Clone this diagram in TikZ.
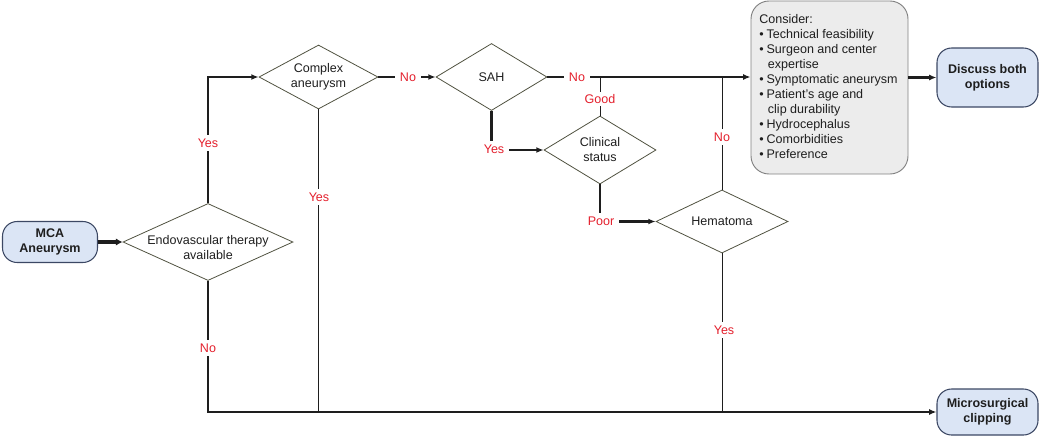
\documentclass[tikz,border=0pt]{standalone}
\usepackage{fontspec}
\setmainfont{Liberation Sans}
\usetikzlibrary{shapes.geometric,arrows.meta,calc}
\definecolor{lblred}{RGB}{228,32,45}
\definecolor{boxblue}{RGB}{219,229,245}
\definecolor{boxedge}{RGB}{60,72,100}
\definecolor{diaedge}{RGB}{80,82,64}
\definecolor{graybox}{RGB}{236,236,236}
\definecolor{grayedge}{RGB}{130,130,130}
\definecolor{txt}{RGB}{30,30,30}
\newcommand\bl{\makebox[5.5pt][l]{\textbullet}}
\newcommand\ind{\hspace*{6.5pt}}
\tikzset{
  every node/.style={font=\fontsize{9.4}{11.25}\selectfont, text=txt},
  term/.style={draw=boxedge, fill=boxblue, line width=0.8pt, rounded corners=11pt,
    inner sep=0pt, align=center, font=\fontsize{9.4}{11.25}\selectfont\bfseries},
  dia/.style={diamond, draw=diaedge, line width=0.6pt, inner sep=0pt},
  lab/.style={fill=white, text=lblred, inner xsep=3.5pt, inner ysep=3pt},
  thickln/.style={draw=txt, line width=1.7pt},
  thinln/.style={draw=txt, line width=0.7pt},
  arr/.style={-{Latex[length=5.5pt,width=4.5pt]}},
}
\begin{document}
\begin{tikzpicture}[x=0.75pt,y=-0.75pt]
\useasboundingbox (0,0) rectangle (1039,436);
% nodes
\node[term, minimum width=71.25pt, minimum height=30.75pt] (mca) at (50,242) {MCA\\Aneurysm};
\node[dia, minimum width=127.5pt, minimum height=57.75pt,
  label={[align=center, yshift=-4.5pt]center:Endovascular therapy\\available}] (endo) at (208,242) {};
\node[dia, minimum width=89.25pt, minimum height=48pt,
  label={[align=center]center:Complex\\aneurysm}] (complex) at (318.5,77) {};
\node[dia, minimum width=83.25pt, minimum height=50.25pt,
  label={center:SAH}] (sah) at (491.5,77) {};
\node[dia, minimum width=84pt, minimum height=51pt,
  label={[align=center]center:Clinical\\status}] (clin) at (600,150) {};
\node[dia, minimum width=99pt, minimum height=47.25pt,
  label={center:Hematoma}] (hema) at (722,221.5) {};
\node[draw=grayedge, fill=graybox, line width=0.7pt, rounded corners=13.5pt,
  minimum width=117.75pt, minimum height=129.75pt, inner sep=0pt] (consider) at (829.5,87.5) {};
\node[anchor=north west, align=left, inner sep=0pt] (clist) at (759,14)
 {Consider:\\
  \bl Technical feasibility\\
  \bl Surgeon and center\\
  \ind expertise\\
  \bl Symptomatic aneurysm\\
  \bl Patient’s age and\\
  \ind clip durability\\
  \bl Hydrocephalus\\
  \bl Comorbidities\\
  \bl Preference};
\node[term, minimum width=75.75pt, minimum height=44.25pt] (discuss) at (987.5,77.5) {Discuss both\\options};
\node[term, minimum width=75.75pt, minimum height=34.5pt] (micro) at (987.5,412) {Microsurgical\\clipping};
% connectors
\draw[draw=txt, line width=3pt, -{Latex[length=5pt,width=5.5pt]}] (mca) -- (endo.west);
\draw[thickln, arr] (endo.north) |- (complex.west);
\draw[thickln, arr] (complex.east) -- (sah.west);
\draw[thickln, arr] (sah.east) -- (consider.west |- sah.east);
\draw[thinln] (clin.north |- sah.east) -- (clin.north);
\draw[thickln, arr] (sah.south) |- (clin.west);
\draw[thickln, arr] (clin.south) |- (hema.west);
\draw[thinln] (hema.north) -- (hema.north |- sah.east);
\draw[thinln] (hema.south) -- (hema.south |- micro.west);
\draw[thinln] (complex.south) -- (complex.south |- micro.west);
\draw[thickln, arr] (endo.south) |- (micro.west);
\draw[thickln, arr] (consider.east |- discuss.west) -- (discuss.west);
% labels
\node[lab] (l1) at (208,143) {Yes};
\node[lab] (l2) at (408,77) {No};
\node[lab] (l3) at (577,77) {No};
\node[lab, inner ysep=1.5pt] (l4) at (600,99) {Good};
\node[lab] (l5) at (494,149) {Yes};
\node[lab] (l6) at (601,221) {Poor};
\node[lab] (l7) at (722,137) {No};
\node[lab] (l8) at (724,330) {Yes};
\node[lab] (l9) at (319,197) {Yes};
\node[lab] (l10) at (208,348) {No};
\end{tikzpicture}
\end{document}
